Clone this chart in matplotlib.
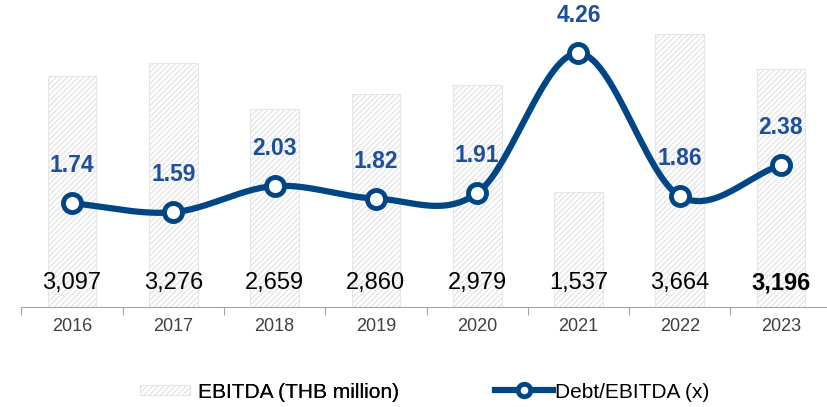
import numpy as np
import matplotlib.pyplot as plt
from matplotlib.patches import Patch
from matplotlib.lines import Line2D

plt.rcParams['font.family'] = ['Liberation Sans', 'DejaVu Sans']
plt.rcParams['hatch.color'] = '#B3B3B3'
plt.rcParams['hatch.linewidth'] = 1.0

years = ['2016', '2017', '2018', '2019', '2020', '2021', '2022', '2023']
ebitda = [3097, 3276, 2659, 2860, 2979, 1537, 3664, 3196]
debt_ebitda = [1.74, 1.59, 2.03, 1.82, 1.91, 4.26, 1.86, 2.38]

LINE = '#004685'
LABEL = '#1C4F9E'


def smooth(x, y, n=30):
    # Excel-style smoothed line (Catmull-Rom through the points)
    x = np.asarray(x, float)
    y = np.asarray(y, float)
    px = np.concatenate([[2 * x[0] - x[1]], x, [2 * x[-1] - x[-2]]])
    py = np.concatenate([[2 * y[0] - y[1]], y, [2 * y[-1] - y[-2]]])
    xs, ys = [], []
    t = np.linspace(0, 1, n)
    for i in range(1, len(px) - 2):
        for p, out in ((px, xs), (py, ys)):
            p0, p1, p2, p3 = p[i - 1], p[i], p[i + 1], p[i + 2]
            out.append(0.5 * (2 * p1 + (-p0 + p2) * t
                              + (2 * p0 - 5 * p1 + 4 * p2 - p3) * t ** 2
                              + (-p0 + 3 * p1 - 3 * p2 + p3) * t ** 3))
    return np.concatenate(xs), np.concatenate(ys)


fig = plt.figure(figsize=(8.28, 4.07), dpi=100)
ax = fig.add_axes([21.4 / 828, 100 / 407, 810.3 / 828, 298 / 407])
x = np.arange(len(years))

ax.bar(x, ebitda, width=0.48, color='white', edgecolor='#E6E6E6',
       hatch='//////', linewidth=0.8, zorder=1)
ax.set_ylim(0, 4000)
ax.set_xlim(-0.5, len(years) - 0.5)

for i, v in enumerate(ebitda):
    ax.text(i, 320, f'{v:,}', ha='center', va='center', fontsize=17,
            color='black',
            fontweight='bold' if i == len(years) - 1 else 'normal', zorder=5)

for s in ['top', 'right', 'left']:
    ax.spines[s].set_visible(False)
ax.spines['bottom'].set_color('#A6A6A6')
ax.set_yticks([])
ax.set_xticks(np.arange(-0.5, len(years) + 0.5, 1))
ax.set_xticklabels([])
ax.set_xticks(x, minor=True)
ax.set_xticklabels(years, minor=True, fontsize=13, color='#404040')
ax.tick_params(axis='x', which='major', length=6, color='#A6A6A6', direction='out')
ax.tick_params(axis='x', which='minor', length=0, pad=8)

ax2 = ax.twinx()
ax2.set_ylim(0, 5)
ax2.axis('off')
sx, sy = smooth(x, debt_ebitda)
ax2.plot(sx, sy, color=LINE, linewidth=4.5, solid_capstyle='round', zorder=3)
ax2.plot(x, debt_ebitda, 'o', markersize=13, markerfacecolor='white',
         markeredgecolor=LINE, markeredgewidth=3.5, zorder=4)
for i, v in enumerate(debt_ebitda):
    ax2.annotate(f'{v:.2f}', (i, v), xytext=(0, 27), textcoords='offset points',
                 ha='center', va='center', fontsize=16.5, fontweight='bold',
                 color=LABEL)

bar_handle = Patch(facecolor='white', edgecolor='#E6E6E6', hatch='//////',
                   linewidth=0.8)
line_handle = Line2D([0], [0], color=LINE, linewidth=4.5, marker='o',
                     markersize=9, markerfacecolor='white',
                     markeredgecolor=LINE, markeredgewidth=3.5)
leg1 = fig.legend([bar_handle], ['EBITDA (THB million)'], loc='center left',
                  bbox_to_anchor=(140 / 828, 15 / 407), frameon=False,
                  fontsize=15, borderpad=0, borderaxespad=0,
                  handlelength=2.4, handleheight=0.35, handletextpad=0.4)
fig.legend([line_handle], ['Debt/EBITDA (x)'], loc='center left',
           bbox_to_anchor=(495 / 828, 15 / 407), frameon=False,
           fontsize=15, borderpad=0, borderaxespad=0,
           handlelength=2.8, handletextpad=0.1)
fig.add_artist(leg1)

fig.savefig('out.png', dpi=100)
